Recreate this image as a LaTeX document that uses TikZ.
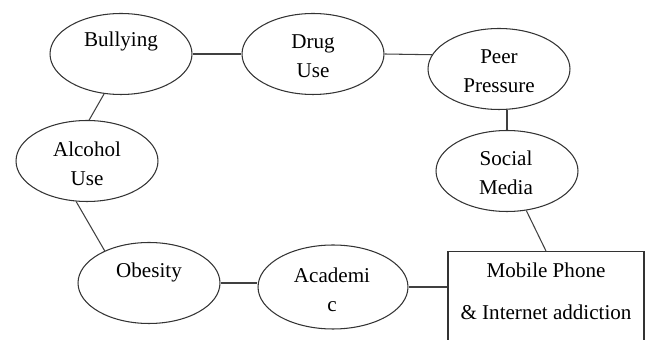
\documentclass[tikz,border=0pt]{standalone}
\usepackage{fontspec}
\setmainfont{Liberation Serif}
\usetikzlibrary{shapes.geometric, positioning, calc}

\begin{document}
\begin{tikzpicture}[
    x=0.02cm,
    y=-0.02cm,
    bubble/.style={
        ellipse,
        draw=black!80,
        line width=0.6pt,
        inner sep=0pt,
        minimum width=2.84cm,
        minimum height=1.62cm
    },
    box/.style={
        rectangle,
        draw=black!80,
        line width=0.6pt,
        inner sep=0pt,
        minimum width=3.92cm,
        minimum height=2.4cm
    },
    word/.style={
        align=center,
        inner sep=0pt,
        font=\fontsize{12}{16.4}\selectfont
    },
    link/.style={
        draw=black!75,
        line width=0.6pt
    }
]
\useasboundingbox (0,0) rectangle (649,340);

% Top row
\node[bubble] (bully) at (121,54) {};
\node[word] (bully-t) at (121,41) {Bullying};
\node[bubble] (drug) at (313,54) {};
\node[word] (drug-t) at (313,56) {Drug\\Use};
\node[bubble] (peer) at (499,69) {};
\node[word] (peer-t) at (499,71) {Peer\\Pressure};

% Sides
\node[bubble] (alcohol) at (87,161) {};
\node[word] (alcohol-t) at (87,164) {Alcohol\\Use};
\node[bubble] (social) at (507,171) {};
\node[word] (social-t) at (506,173) {Social\\Media};

% Bottom row
\node[bubble] (obesity) at (149,283) {};
\node[word] (obesity-t) at (149,272) {Obesity};
\node[bubble, minimum width=3cm, minimum height=1.68cm] (academic) at (333,287) {};
\node[word] (academic-t) at (332,290) {Academi\\c};
\node[box, anchor=north] (mobile) at (546,251) {};
\node[word, font=\fontsize{12}{23.8}\selectfont] (mobile-t) at (546,291) {Mobile Phone\\\& Internet addiction};

% Links
\draw[link] (bully) -- (drug);
\draw[link] (drug.east) -- (peer.168);
\draw[link] (social.north) -- (social.north |- peer.south);
\draw[link] (social) -- (mobile.north);
\draw[link] (academic.east) -- (academic.east -| mobile.west);
\draw[link] (obesity.east) -- (obesity.east -| academic.west);
\draw[link] (alcohol.255) -- (obesity.144);
\draw[link] (bully.247) -- (alcohol.87);

\end{tikzpicture}
\end{document}
